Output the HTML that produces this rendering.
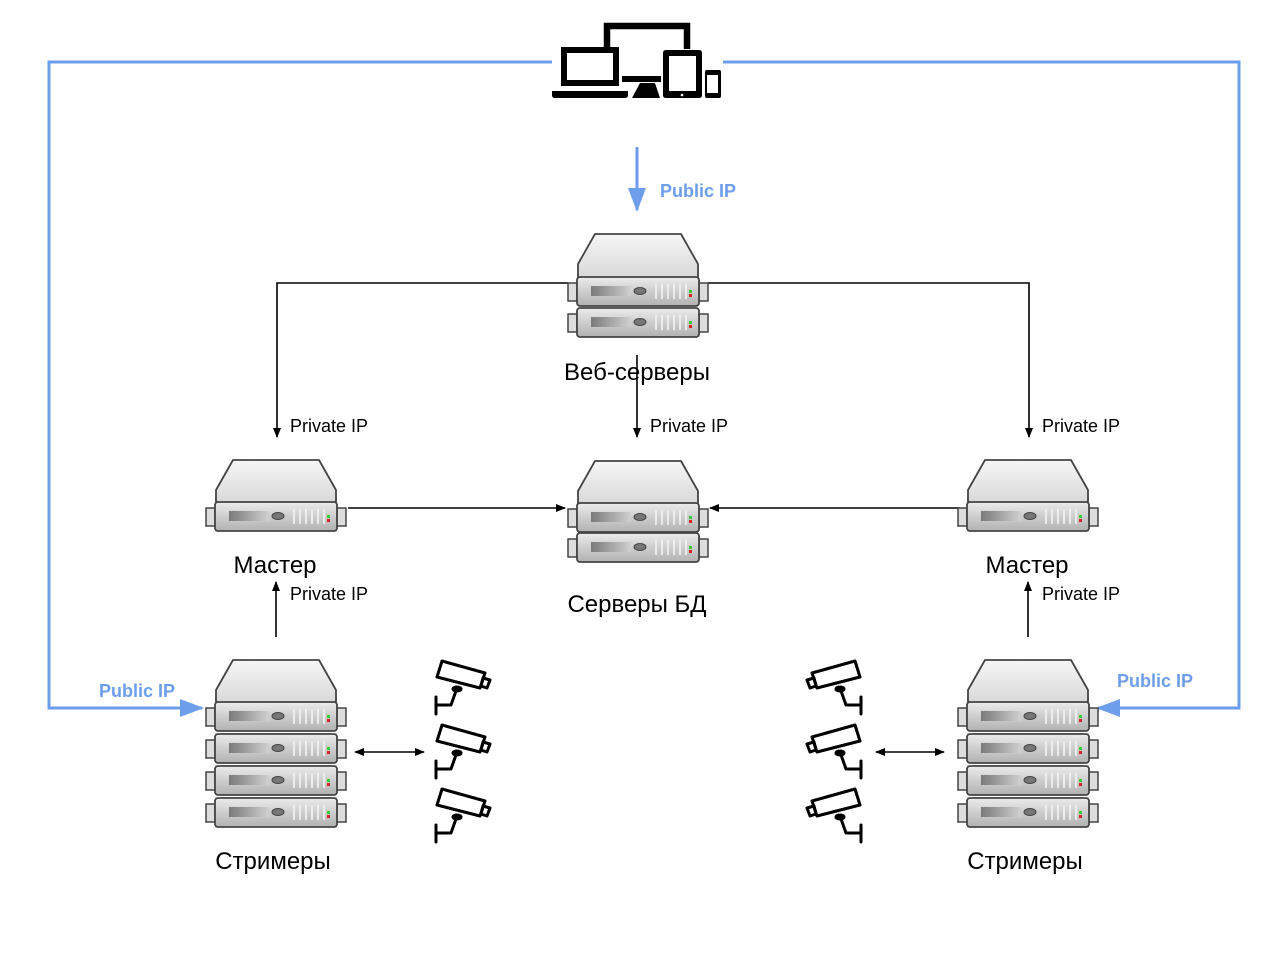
<!DOCTYPE html>
<html><head><meta charset="utf-8"><style>
html,body{margin:0;padding:0;background:#fff;}
svg{display:block;}
text{font-family:"Liberation Sans","DejaVu Sans",sans-serif;}
</style></head><body>
<svg width="1280" height="960" viewBox="0 0 1280 960" xmlns="http://www.w3.org/2000/svg">
<defs>
<linearGradient id="cg" x1="0" y1="0" x2="0" y2="1"><stop offset="0" stop-color="#f6f6f6"/><stop offset="1" stop-color="#d8d8d8"/></linearGradient>
<linearGradient id="ug" x1="0" y1="0" x2="0" y2="1"><stop offset="0" stop-color="#ececec"/><stop offset="0.5" stop-color="#cdcdcd"/><stop offset="1" stop-color="#b2b2b2"/></linearGradient>
<linearGradient id="sg" x1="0" y1="0" x2="1" y2="0"><stop offset="0" stop-color="#7a7a7a"/><stop offset="1" stop-color="#d0d0d0"/></linearGradient>
<g id="unit">
  <rect x="-70" y="6" width="9" height="18" fill="#ddd" stroke="#444" stroke-width="1.5"/>
  <rect x="61" y="6" width="9" height="18" fill="#ddd" stroke="#444" stroke-width="1.5"/>
  <rect x="-61" y="0" width="122" height="29" rx="3" fill="url(#ug)" stroke="#444" stroke-width="1.8"/>
  <rect x="-47" y="9" width="40" height="10" fill="url(#sg)"/>
  <ellipse cx="2" cy="14" rx="6" ry="3.5" fill="#777" stroke="#444"/>
  <g stroke="#f4f4f4" stroke-width="1.6">
    <line x1="18" y1="7" x2="18" y2="22"/><line x1="24" y1="7" x2="24" y2="22"/><line x1="30" y1="7" x2="30" y2="22"/><line x1="36" y1="7" x2="36" y2="22"/><line x1="42" y1="7" x2="42" y2="22"/><line x1="48" y1="7" x2="48" y2="22"/>
  </g>
  <rect x="51" y="13" width="3" height="3" fill="#3c3"/><rect x="51" y="17" width="3" height="3" fill="#d22"/>
</g>
<g id="cap">
  <polygon points="-43,0 43,0 60,30 60,44 -60,44 -60,30" fill="url(#cg)" stroke="#444" stroke-width="1.8" stroke-linejoin="round"/>
</g>
<g id="cam" fill="none" stroke="#000" stroke-width="3" stroke-linejoin="round" stroke-linecap="round">
  <polygon points="7,1 50,13 45,28 2,17"/>
  <polygon points="48,18 55,20 52,28 46,26"/>
  <path d="M22 28 L16 45 L2 45"/>
  <line x1="1" y1="37" x2="1" y2="54"/>
  <ellipse cx="22" cy="29" rx="4" ry="2" fill="#000"/>
</g>
<marker id="ab" markerWidth="10" markerHeight="10" refX="9" refY="5" orient="auto" markerUnits="userSpaceOnUse"><path d="M0,1 L10,5 L0,9 z" fill="#000"/></marker>
<marker id="abs" markerWidth="10" markerHeight="10" refX="1" refY="5" orient="auto" markerUnits="userSpaceOnUse"><path d="M10,1 L0,5 L10,9 z" fill="#000"/></marker>
<marker id="bl" markerWidth="24" markerHeight="20" refX="22" refY="10" orient="auto" markerUnits="userSpaceOnUse"><path d="M0,1 L24,10 L0,19 z" fill="#6d9eeb"/></marker>
</defs>

<!-- blue lines -->
<g stroke="#6d9eeb" stroke-width="3" fill="none">
  <polyline points="552,62 49,62 49,708 202,708" marker-end="url(#bl)"/>
  <polyline points="723,62 1239,62 1239,708 1098,708" marker-end="url(#bl)"/>
  <line x1="637" y1="147" x2="637" y2="210" marker-end="url(#bl)"/>
</g>
<g fill="#6d9eeb" font-size="18" font-weight="bold">
  <text x="660" y="197">Public IP</text>
  <text x="99" y="697">Public IP</text>
  <text x="1117" y="687">Public IP</text>
</g>

<!-- devices -->
<g fill="#000">
  <path d="M607 49 V26 H687 V49" fill="none" stroke="#000" stroke-width="6.5"/>
  <path d="M561 47 h58 v39 h-58z M567 53 v27 h46 v-27z" fill-rule="evenodd"/>
  <path d="M552 91 h76 v4 q0 3 -3 3 h-70 q-3 0 -3 -3z"/>
  <rect x="622" y="76" width="39" height="6"/>
  <polygon points="640,83 655,83 660,98 632,98"/>
  <path d="M666 50 h33 q3 0 3 3 v42 q0 3 -3 3 h-33 q-3 0 -3 -3 v-42 q0 -3 3 -3z M669 56 v35 h27 v-35z" fill-rule="evenodd"/>
  <circle cx="682" cy="95" r="1.3" fill="#fff"/>
  <path d="M707 70 h12 q2 0 2 2 v24 q0 2 -2 2 h-12 q-2 0 -2 -2 v-24 q0 -2 2 -2z M707 75 v18 h11 v-18z" fill-rule="evenodd"/>
</g>

<!-- black connectors -->
<g stroke="#000" stroke-width="1.6" fill="none">
  <polyline points="568,283 277,283 277,437" marker-end="url(#ab)"/>
  <polyline points="708,283 1029,283 1029,437" marker-end="url(#ab)"/>
  <line x1="637" y1="355" x2="637" y2="437" marker-end="url(#ab)"/>
  <line x1="348" y1="508" x2="565" y2="508" marker-end="url(#ab)"/>
  <line x1="960" y1="508" x2="710" y2="508" marker-end="url(#ab)"/>
  <line x1="276" y1="637" x2="276" y2="582" marker-end="url(#ab)"/>
  <line x1="1028" y1="637" x2="1028" y2="582" marker-end="url(#ab)"/>
  <line x1="355" y1="752" x2="424" y2="752" marker-start="url(#abs)" marker-end="url(#ab)"/>
  <line x1="876" y1="752" x2="944" y2="752" marker-start="url(#abs)" marker-end="url(#ab)"/>
</g>

<use href="#cap" x="638" y="234"/>
<use href="#unit" x="638" y="277"/>
<use href="#unit" x="638" y="308"/>
<use href="#cap" x="638" y="461"/>
<use href="#unit" x="638" y="503"/>
<use href="#unit" x="638" y="533"/>
<use href="#cap" x="276" y="460"/>
<use href="#unit" x="276" y="502"/>
<use href="#cap" x="1028" y="460"/>
<use href="#unit" x="1028" y="502"/>
<use href="#cap" x="276" y="660"/>
<use href="#unit" x="276" y="702"/>
<use href="#unit" x="276" y="734"/>
<use href="#unit" x="276" y="766"/>
<use href="#unit" x="276" y="798"/>
<use href="#cap" x="1028" y="660"/>
<use href="#unit" x="1028" y="702"/>
<use href="#unit" x="1028" y="734"/>
<use href="#unit" x="1028" y="766"/>
<use href="#unit" x="1028" y="798"/>

<use href="#cam" x="435" y="660"/>
<use href="#cam" x="435" y="724"/>
<use href="#cam" x="435" y="788"/>
<g transform="translate(1297,0) scale(-1,1)">
  <use href="#cam" x="435" y="660"/>
  <use href="#cam" x="435" y="724"/>
  <use href="#cam" x="435" y="788"/>
</g>

<g fill="#000" font-size="18">
  <text x="290" y="432">Private IP</text>
  <text x="650" y="432">Private IP</text>
  <text x="1042" y="432">Private IP</text>
  <text x="290" y="600">Private IP</text>
  <text x="1042" y="600">Private IP</text>
</g>
<g fill="#000" font-size="24" text-anchor="middle">
  <text x="637" y="380">Веб-серверы</text>
  <text x="275" y="573">Мастер</text>
  <text x="1027" y="573">Мастер</text>
  <text x="637" y="612">Серверы БД</text>
  <text x="273" y="869">Стримеры</text>
  <text x="1025" y="869">Стримеры</text>
</g>
</svg>
</body></html>
